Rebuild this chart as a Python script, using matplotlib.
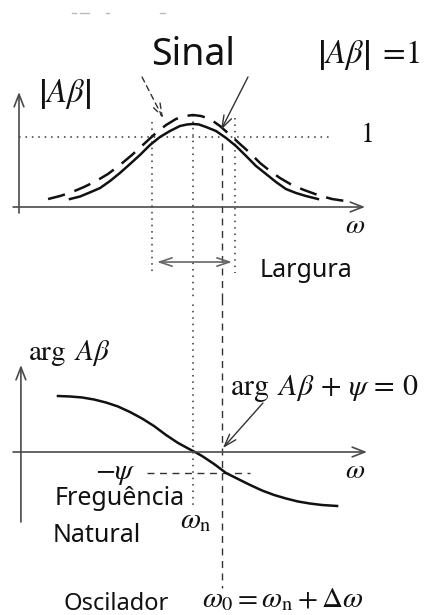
import matplotlib
matplotlib.use('Agg')
import matplotlib.pyplot as plt

plt.rcParams['mathtext.fontset'] = 'stix'
plt.rcParams['font.family'] = ['Noto Sans', 'DejaVu Sans']

# ---------------- data ----------------
# |A beta| : solid curve
omega_solid = [0.293, 0.351, 0.408, 0.466, 0.523, 0.580, 0.638, 0.695, 0.753, 0.810,
               0.868, 0.925, 0.966, 1.000, 1.034, 1.075, 1.132, 1.190, 1.247, 1.305,
               1.362, 1.420, 1.477, 1.534, 1.592, 1.649, 1.718]
mag_solid = [0.114, 0.150, 0.209, 0.271, 0.371, 0.486, 0.614, 0.743, 0.886, 1.000,
             1.086, 1.157, 1.179, 1.186, 1.179, 1.143, 1.086, 0.986, 0.871, 0.729,
             0.586, 0.471, 0.357, 0.257, 0.200, 0.157, 0.114]
# |A beta| : dashed curve
omega_dashed = [0.167, 0.236, 0.305, 0.374, 0.443, 0.511, 0.580, 0.649, 0.718, 0.787,
                0.845, 0.902, 0.954, 1.000, 1.046, 1.098, 1.155, 1.213, 1.270, 1.328,
                1.385, 1.443, 1.500, 1.569, 1.638, 1.718, 1.799, 1.874]
mag_dashed = [0.114, 0.157, 0.214, 0.286, 0.371, 0.471, 0.600, 0.743, 0.900, 1.057,
              1.171, 1.257, 1.300, 1.314, 1.300, 1.257, 1.157, 1.029, 0.900, 0.771,
              0.629, 0.514, 0.414, 0.314, 0.243, 0.171, 0.114, 0.086]
# arg A beta
omega_phase = [0.224, 0.293, 0.362, 0.431, 0.500, 0.569, 0.638, 0.707, 0.776, 0.845,
               0.914, 0.983, 1.011, 1.052, 1.121, 1.190, 1.259, 1.328, 1.397, 1.466,
               1.534, 1.603, 1.672, 1.741, 1.828]
phase = [0.800, 0.793, 0.779, 0.750, 0.707, 0.650, 0.571, 0.479, 0.371, 0.243,
         0.129, 0.036, 0.000, -0.057, -0.171, -0.300, -0.386, -0.471, -0.550, -0.614,
         -0.664, -0.707, -0.736, -0.757, -0.771]

omega_n = 1.0
omega_0 = 1.164
width_lo, width_hi = 0.764, 1.241
psi = 0.3
mag_ref = 1.0

# ---------------- layout ----------------
W, H = 424, 615
fig = plt.figure(figsize=(W / 100, H / 100), dpi=100)
X0, XS = 19, 174          # pixel of omega=0, pixels per unit
TOP_Z, BOT_Z, YS = 207, 452, 70

ax_t = fig.add_axes([0, (H - 300) / H, 1, 300 / H])
ax_b = fig.add_axes([0, 0, 1, 315 / H])
for ax in (ax_t, ax_b):
    ax.set_xlim(-X0 / XS, (W - X0) / XS)
    ax.axis('off')
    ax.patch.set_alpha(0)
ax_t.set_ylim((TOP_Z - 300) / YS, TOP_Z / YS)
ax_b.set_ylim((BOT_Z - H) / YS, (BOT_Z - 300) / YS)

AX_C = '#4a4a4a'
CUR_C = '#111111'
DOT = (0, (1.0, 3.2))
DASH = (0, (7, 4))
VDASH = (0, (5, 4))


def axis_arrow(ax, start, tip, color=AX_C, lw=1.2, ls='-'):
    ax.annotate('', xy=tip, xytext=start,
                arrowprops=dict(arrowstyle='->,head_length=0.9,head_width=0.35',
                                lw=lw, color=color, ls=ls, shrinkA=0, shrinkB=0))


# ---------- top panel ----------
axis_arrow(ax_t, (0, -0.086), (0, 1.643))
axis_arrow(ax_t, (-0.034, 0), (1.989, 0))

ax_t.plot([0, 1.799], [mag_ref, mag_ref], color='#333', lw=1.1, ls=DOT)
ax_t.plot([width_lo, width_lo], [1.214, -0.943], color='#333', lw=1.1, ls=DOT)
ax_t.plot([width_hi, width_hi], [1.271, -0.943], color='#333', lw=1.1, ls=DOT)
ax_t.plot([omega_n, omega_n], [1.314, -1.33], color='#333', lw=1.1, ls=DOT)
ax_t.plot([omega_0, omega_0], [0.914, -1.33], color='#333', lw=1.0, ls=VDASH)

ax_t.plot(omega_dashed, mag_dashed, color=CUR_C, lw=1.8, ls=DASH)
ax_t.plot(omega_solid, mag_solid, color=CUR_C, lw=1.8)

# width double arrow
ax_t.annotate('', xy=(1.224, -0.786), xytext=(0.793, -0.786),
              arrowprops=dict(arrowstyle='<->,head_length=0.9,head_width=0.3',
                              lw=1.2, color='#666', shrinkA=0, shrinkB=0))

# pointer arrows
ax_t.annotate('', xy=(0.828, 1.271), xytext=(0.707, 1.857),
              arrowprops=dict(arrowstyle='->,head_length=0.9,head_width=0.3',
                              lw=1.0, color='#333', ls=(0, (4, 3)), shrinkA=0, shrinkB=0))
ax_t.annotate('', xy=(1.161, 1.10), xytext=(1.316, 1.857),
              arrowprops=dict(arrowstyle='->,head_length=0.9,head_width=0.3',
                              lw=1.0, color='#333', shrinkA=0, shrinkB=0))

# faint scan marks at the top
for xa, xb in [(0.305, 0.33), (0.35, 0.40), (0.50, 0.52), (0.81, 0.84)]:
    ax_t.plot([xa, xb], [2.771, 2.771], color='#bbb', lw=1.0)

ax_t.text(1.0, 2.029, 'Sinal', fontsize=27, ha='center', va='baseline', color='#111')
ax_t.text(1.713, 2.057, r'$\left|A\beta\right|\;=\!1$', fontsize=23.5, ha='left', va='baseline', color='#111')
ax_t.text(0.109, 1.50, r'$\left|A\beta\right|$', fontsize=23.5, ha='left', va='baseline', color='#111')
ax_t.text(1.960, 0.929, r'$1$', fontsize=20, ha='left', va='baseline', color='#111')
ax_t.text(1.875, -0.371, r'$\omega$', fontsize=20, ha='left', va='baseline', color='#111')
ax_t.text(1.385, -1.0, 'Largura', fontsize=18, ha='left', va='baseline', color='#111')

# ---------- bottom panel ----------
axis_arrow(ax_b, (0.011, -1.0), (0.011, 1.243))
axis_arrow(ax_b, (-0.034, 0), (2.0, 0))

ax_b.plot([omega_n, omega_n], [2.2, -0.757], color='#333', lw=1.1, ls=DOT)
ax_b.plot([omega_0, omega_0], [2.2, -1.943], color='#333', lw=1.0, ls=VDASH)
ax_b.plot([0.736, 1.328], [-psi, -psi], color='#333', lw=1.0, ls=VDASH)

ax_b.plot(omega_phase, phase, color=CUR_C, lw=1.8)

ax_b.annotate('', xy=(1.172, 0.057), xytext=(1.402, 0.70),
              arrowprops=dict(arrowstyle='->,head_length=0.9,head_width=0.3',
                              lw=1.0, color='#333', shrinkA=0, shrinkB=0))

ax_b.text(0.052, 1.314, r'$\arg\ A\beta$', fontsize=21, ha='left', va='baseline', color='#111')
ax_b.text(1.213, 0.814, r'$\arg\ A\beta\,+\,\psi\,=\,0$', fontsize=21.5, ha='left', va='baseline', color='#111')
ax_b.text(0.437, -0.386, r'$-\psi$', fontsize=21, ha='left', va='baseline', color='#111')
ax_b.text(1.875, -0.371, r'$\omega$', fontsize=20, ha='left', va='baseline', color='#111')
ax_b.text(0.207, -0.757, 'Freguência', fontsize=18, ha='left', va='baseline', color='#111')
ax_b.text(0.195, -1.286, 'Natural', fontsize=18, ha='left', va='baseline', color='#111')
ax_b.text(0.925, -1.086, r'$\omega_{\rm n}$', fontsize=21, ha='left', va='baseline', color='#111')
ax_b.text(0.253, -2.257, 'Oscilador', fontsize=17, ha='left', va='baseline', color='#111')
ax_b.text(1.052, -2.214, r'$\omega_0 = \omega_{\rm n} + \Delta\omega$', fontsize=21,
          ha='left', va='baseline', color='#111')

fig.savefig('out.png', dpi=100)
